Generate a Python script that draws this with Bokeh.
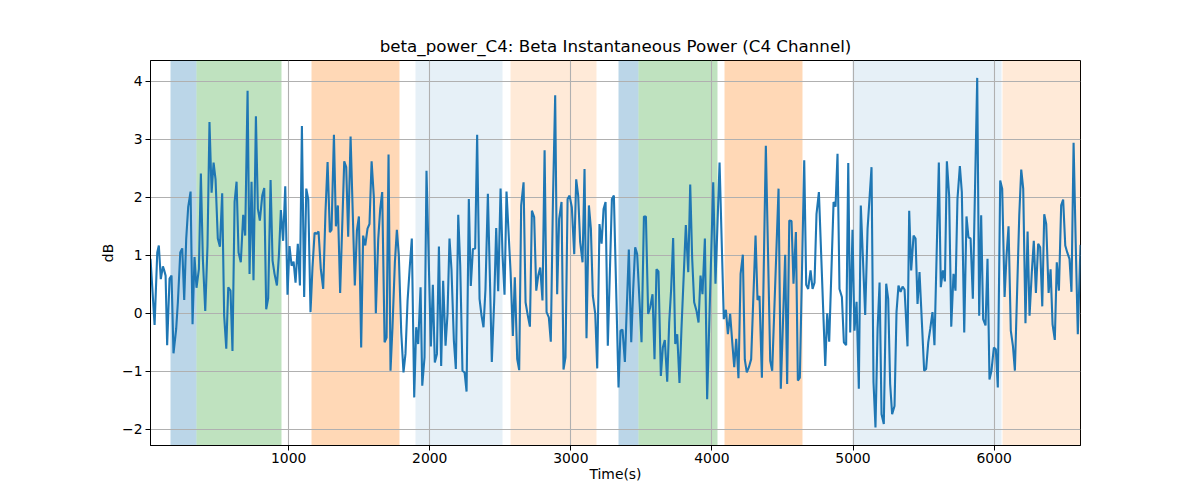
from bokeh.plotting import figure
from bokeh.models import Range1d
from bokeh.embed import file_html
from bokeh.resources import INLINE

# ---- data ----
time_s = [
    21, 50, 69, 80, 94, 109, 118, 128, 139, 156, 170, 184, 203, 215, 232, 246, 260, 274, 288, 305,
    319, 333, 347, 364, 378, 392, 409, 425, 439, 454, 468, 482, 498, 513, 529, 543, 558, 572, 588, 602,
    617, 631, 645, 661, 678, 692, 709, 723, 737, 751, 768, 782, 796, 813, 827, 841, 855, 872, 886, 900,
    917, 931, 945, 961, 976, 992, 1006, 1021, 1035, 1049, 1065, 1080, 1094, 1110, 1125, 1139, 1155, 1169, 1184, 1198,
    1212, 1228, 1245, 1261, 1276, 1292, 1304, 1321, 1335, 1349, 1365, 1394, 1408, 1422, 1439, 1469, 1484, 1498, 1514, 1528,
    1543, 1559, 1573, 1588, 1604, 1618, 1635, 1649, 1663, 1680, 1694, 1708, 1722, 1736, 1753, 1767, 1781, 1798, 1814, 1828,
    1843, 1859, 1873, 1890, 1904, 1918, 1935, 1947, 1963, 1977, 2008, 2022, 2036, 2051, 2065, 2081, 2095, 2112, 2126, 2140,
    2154, 2171, 2185, 2202, 2216, 2232, 2247, 2261, 2277, 2291, 2306, 2322, 2336, 2353, 2367, 2381, 2395, 2412, 2426, 2440,
    2457, 2471, 2485, 2502, 2516, 2530, 2544, 2573, 2589, 2603, 2620, 2634, 2648, 2665, 2679, 2695, 2710, 2724, 2740, 2755,
    2769, 2783, 2799, 2814, 2828, 2844, 2858, 2873, 2889, 2903, 2917, 2934, 2948, 2962, 2977, 2991, 3007, 3024, 3038, 3052,
    3066, 3083, 3097, 3111, 3128, 3142, 3156, 3173, 3187, 3203, 3218, 3232, 3246, 3262, 3291, 3305, 3338, 3352, 3366, 3383,
    3411, 3428, 3442, 3456, 3470, 3487, 3501, 3518, 3532, 3548, 3562, 3579, 3593, 3607, 3621, 3638, 3652, 3666, 3683, 3697,
    3711, 3725, 3740, 3754, 3770, 3784, 3801, 3815, 3832, 3846, 3860, 3874, 3891, 3905, 3919, 3933, 3950, 3966, 4009, 4025,
    4054, 4084, 4099, 4113, 4129, 4144, 4158, 4172, 4188, 4203, 4219, 4233, 4247, 4262, 4278, 4309, 4323, 4337, 4354, 4382,
    4413, 4427, 4472, 4488, 4519, 4533, 4548, 4564, 4578, 4595, 4609, 4623, 4654, 4668, 4682, 4699, 4713, 4727, 4741, 4758,
    4803, 4817, 4831, 4862, 4876, 4890, 4904, 4921, 4935, 4951, 4966, 4980, 4996, 5010, 5025, 5041, 5055, 5086, 5103, 5131,
    5145, 5159, 5174, 5188, 5202, 5218, 5235, 5249, 5263, 5277, 5294, 5308, 5322, 5337, 5351, 5365, 5386, 5398, 5412, 5429,
    5443, 5457, 5471, 5488, 5504, 5518, 5533, 5547, 5563, 5577, 5608, 5622, 5637, 5651, 5665, 5681, 5696, 5712, 5726, 5740,
    5757, 5771, 5788, 5804, 5818, 5833, 5849, 5880, 5894, 5908, 5922, 5939, 5953, 5967, 5981, 5998, 6012, 6026, 6043, 6057,
    6074, 6088, 6102, 6118, 6133, 6147, 6178, 6192, 6206, 6222, 6237, 6251, 6267, 6281, 6296, 6312, 6326, 6341, 6355, 6369,
    6386, 6400, 6414, 6430, 6444, 6459, 6475, 6489, 6504, 6518, 6534, 6548, 6563, 6579, 6593, 6612,
]
power_db = [
    0.94, -0.20, 1.05, 1.17, 0.59, 0.81, 0.74, 0.65, -0.55, 0.60, 0.65, -0.69, -0.27, 0.19, 1.05, 1.12, 0.23, 1.28, 1.83, 2.10,
    -0.19, 0.97, 0.44, 0.76, 2.41, 0.94, 0.04, 1.17, 3.30, 2.08, 2.60, 2.31, 1.29, 1.15, 2.07, -0.04, -0.61, 0.45, 0.39, -0.65,
    1.92, 2.27, 1.05, 0.88, 1.70, 1.34, 3.84, 0.68, 2.27, 0.57, 3.40, 1.80, 1.60, 2.03, 2.16, 0.07, 0.26, 2.30, 0.91, 0.68,
    0.48, 1.00, 1.78, 1.25, 2.19, 0.32, 1.16, 0.82, 0.89, 0.53, 1.20, 0.48, 3.23, 0.28, 2.15, 1.97, 0.02, 0.79, 1.39, 1.37,
    1.41, 0.76, 0.42, 1.74, 2.61, 1.40, 1.44, 3.08, 1.50, 1.86, 0.35, 2.62, 2.52, 1.32, 3.05, 0.48, 1.43, 1.67, -0.59, 1.34,
    1.17, 1.46, 1.54, 2.62, 2.00, 0.00, 1.28, 1.80, 2.09, -0.50, -0.42, 2.74, -0.99, -0.24, 0.88, 1.44, 1.00, -0.33, -1.02, -0.70,
    0.22, 0.82, 1.29, -1.45, -0.24, -0.53, 0.45, -1.25, -0.76, 2.46, -0.57, 0.49, -0.85, -0.70, 1.15, -0.91, 0.56, -0.56, -0.01, 1.29,
    0.76, -0.47, -0.96, 1.70, 0.82, -0.99, -1.02, -1.35, 1.97, 0.47, 1.11, 1.12, 3.08, 0.25, -0.04, -0.24, 0.42, 2.06, 0.65, -0.84,
    0.22, 1.47, 0.38, 2.15, 1.00, 0.32, 2.10, 0.71, -0.39, 0.62, -0.79, -0.98, 1.86, 2.26, 0.19, -0.04, -0.23, 1.77, 1.66, 0.39,
    0.65, 0.79, 0.22, 2.81, 0.02, -0.07, -0.49, 1.92, 3.76, 0.33, 1.63, 1.92, -0.97, -0.76, 1.97, 2.03, 1.83, 1.02, 2.31, 2.03,
    1.23, 0.88, 2.49, -0.43, 1.86, 1.46, 0.30, -0.01, -0.95, 1.54, 1.20, 1.80, 1.92, -0.56, 1.97, 2.03, -1.28, -0.30, -0.28, -0.84,
    1.10, -0.50, 0.42, 1.14, 1.02, 0.19, -0.50, 1.67, 1.67, -0.01, 0.10, 0.33, -0.79, 0.76, 0.72, -1.08, -0.59, -0.46, -1.18, -0.16,
    0.42, 1.30, -0.53, -0.36, -1.20, -0.27, 0.71, 1.52, 0.71, 2.22, 0.94, 0.19, 0.04, -0.16, 0.65, 0.33, 1.29, -1.48, 2.26, 0.51,
    2.60, -0.10, 0.06, -0.36, -0.01, -0.50, -0.93, -0.44, -1.12, 0.68, 1.01, -0.80, -1.02, -0.93, -0.79, 1.34, 0.23, 0.30, -1.11, 2.89,
    -0.82, -0.99, 2.15, -1.30, 1.01, -1.22, 1.60, 1.59, 0.51, 1.40, -1.16, -1.11, 2.64, 0.49, 0.42, 0.74, 0.42, 0.53, 1.71, 2.09,
    -0.91, 0.00, -0.49, 1.92, 1.84, 2.75, 0.42, 0.28, -0.50, -0.55, 2.59, -0.33, 1.44, -0.30, 0.20, -1.30, 1.86, -0.03, 1.46, 2.52,
    -1.19, -1.97, -0.27, 0.53, -1.74, -1.91, 0.51, 0.25, -1.22, -1.74, -1.60, 0.02, 0.48, 0.37, 0.46, 0.41, -0.57, 1.77, 0.74, 1.34,
    1.29, 0.16, 0.71, -0.16, -0.99, -0.96, -0.50, -0.27, 0.02, -0.55, 2.60, 0.45, 0.74, 0.55, 2.62, 2.03, -0.23, 0.68, 0.39, 1.97,
    2.54, 2.09, -0.33, 1.67, 1.31, 1.29, 0.25, 4.06, -0.04, 1.69, -0.10, -0.21, 0.94, -1.14, -0.99, -0.59, -0.62, -1.28, 2.29, 2.15,
    0.28, 1.00, 1.50, -0.30, -0.56, -0.99, 1.69, 2.48, 2.15, -0.17, 1.41, -0.04, 0.71, 1.25, 0.35, 1.20, 1.14, 0.12, 1.71, 1.54,
    0.35, 0.76, -0.19, -0.46, 0.88, 0.39, 1.86, 1.96, 1.17, 1.05, 0.94, 0.37, 2.94, 1.11, -0.36, 1.18,
]

# shaded intervals (seconds)
span_start = [163, 346, 1162, 1899, 2573, 3338, 3482, 4088, 4994, 6056]
span_end = [346, 946, 1784, 2514, 3181, 3482, 4037, 4640, 6051, 6612]
span_kind = ["blue", "green", "orange", "lightblue", "lightorange",
             "blue", "green", "orange", "lightblue", "lightorange"]

x_ticks = [1000, 2000, 3000, 4000, 5000, 6000]
y_ticks = [-2, -1, 0, 1, 2, 3, 4]

# ---- styles ----
kind_color = {"blue": "#1f77b4", "green": "#2ca02c", "orange": "#ff7f0e",
              "lightblue": "#1f77b4", "lightorange": "#ff7f0e"}
kind_alpha = {"blue": 0.3, "green": 0.3, "orange": 0.3,
              "lightblue": 0.11, "lightorange": 0.16}

FONT = "DejaVu Sans"

p = figure(width=1184, height=484, output_backend="svg", toolbar_location=None,
           x_range=Range1d(time_s[0], time_s[-1]), y_range=Range1d(-2.28, 4.36),
           min_border_left=150, min_border_right=104, min_border_top=60,
           min_border_bottom=36,
           title="beta_power_C4: Beta Instantaneous Power (C4 Channel)")

p.title.align = "center"
p.title.text_font = FONT
p.title.text_font_size = "16.7px"
p.title.text_font_style = "normal"
p.title.text_color = "black"

p.vstrip(x0=span_start, x1=span_end,
         fill_color=[kind_color[k] for k in span_kind],
         fill_alpha=[kind_alpha[k] for k in span_kind],
         line_alpha=0, level="image")

p.line(time_s, power_db, line_color="#1f77b4", line_width=2.1)

p.xaxis.ticker = x_ticks
p.yaxis.ticker = y_ticks
p.yaxis.major_label_overrides = {-2: "\u22122", -1: "\u22121"}

for ax in (p.xaxis, p.yaxis):
    ax.axis_line_color = "black"
    ax.axis_line_width = 1
    ax.major_tick_in = 0
    ax.major_tick_out = 5
    ax.major_tick_line_color = "black"
    ax.minor_tick_line_color = None
    ax.major_label_text_font = FONT
    ax.major_label_text_font_size = "13.9px"
    ax.major_label_text_color = "black"
    ax.axis_label_text_font = FONT
    ax.axis_label_text_font_size = "13.9px"
    ax.axis_label_text_font_style = "normal"
    ax.axis_label_text_color = "black"
    ax.major_label_standoff = 3

p.xaxis.major_label_standoff = 2
p.xaxis.axis_label = "Time(s)"
p.yaxis.axis_label = "dB"
p.xaxis.axis_label_standoff = 0
p.yaxis.axis_label_standoff = 3

p.grid.grid_line_color = "#b0b0b0"
p.grid.grid_line_width = 1.1
p.xgrid.ticker = x_ticks
p.ygrid.ticker = y_ticks

p.outline_line_color = "black"
p.outline_line_width = 1
p.outline_line_alpha = 1

open("out.html", "w").write(file_html(p, INLINE))
